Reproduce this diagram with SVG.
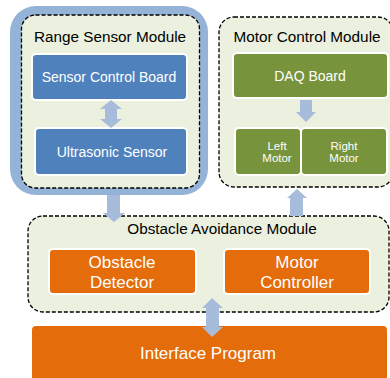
<svg xmlns="http://www.w3.org/2000/svg" width="390" height="378" viewBox="0 0 390 378">
<style>
.mod{fill:#ebf1de;stroke:#000;stroke-width:1.3;stroke-dasharray:4 2}
.blue{fill:#4f81bd;stroke:#fff;stroke-width:2}
.green{fill:#77933c;stroke:#fff;stroke-width:2}
.orange{fill:#e46c0a;stroke:#fff;stroke-width:2}
.arr{fill:#a7bcda}
text{font-family:"Liberation Sans",Arial,sans-serif;text-anchor:middle}
.title{font-size:15.3px;fill:#000}
.w14{font-size:14px;fill:#fff}
.w17{font-size:17px;fill:#fff}
.w11{font-size:11.5px;fill:#fff}
</style>
<rect width="390" height="378" fill="#fff"/>
<g id="range-sensor-module">
<rect x="10" y="6" width="198" height="189" rx="26" fill="#95b3d7"/>
<rect class="mod" x="21.5" y="15" width="178" height="173" rx="14"/>
<text class="title" x="110" y="42">Range Sensor Module</text>
</g>
<g id="sensor-control-board">
<rect class="blue" x="32" y="54" width="155" height="46" rx="4"/>
<text class="w14" x="109" y="82">Sensor Control Board</text>
</g>
<g id="ultrasonic-sensor">
<rect class="blue" x="35" y="128" width="152" height="47" rx="4"/>
<text class="w14" x="112" y="157">Ultrasonic Sensor</text>
</g>
<g id="motor-control-module">
<rect class="mod" x="219" y="17" width="174" height="170" rx="15"/>
<text class="title" x="307" y="42">Motor Control Module</text>
</g>
<g id="daq-board">
<rect class="green" x="233" y="53" width="155" height="45" rx="4"/>
<text class="w14" x="310" y="81">DAQ Board</text>
</g>
<g id="left-motor">
<rect class="green" x="235" y="128" width="66" height="47" rx="4"/>
<text class="w11" x="277" y="150">Left</text>
<text class="w11" x="277" y="162">Motor</text>
</g>
<g id="right-motor">
<rect class="green" x="301" y="128" width="86" height="47" rx="4"/>
<text class="w11" x="344" y="150">Right</text>
<text class="w11" x="344" y="162">Motor</text>
</g>
<g id="obstacle-avoidance-module">
<rect class="mod" x="28" y="216" width="361" height="96" rx="15"/>
<text class="title" x="222" y="234">Obstacle Avoidance Module</text>
</g>
<g id="obstacle-detector">
<rect class="orange" x="49" y="249" width="147" height="45" rx="4"/>
<text class="w17" x="122" y="268">Obstacle</text>
<text class="w17" x="122" y="288">Detector</text>
</g>
<g id="motor-controller">
<rect class="orange" x="224" y="249" width="146" height="45" rx="4"/>
<text class="w17" x="297" y="268">Motor</text>
<text class="w17" x="297" y="288">Controller</text>
</g>
<g id="interface-program">
<rect class="orange" x="31" y="325" width="357" height="62" rx="5"/>
<text class="w17" x="208" y="359">Interface Program</text>
</g>
<g id="connectors">
<polygon class="arr" points="111,100 122,109 117,109 117,119 122,119 111,128 100,119 105,119 105,109 100,109"/>
<polygon class="arr" points="300,100 312,100 312,112 316,112 306,122 296,112 300,112"/>
<polygon class="arr" points="107,195 120,195 120,213 125,213 114,222 103,213 107,213"/>
<polygon class="arr" points="290,216 303,216 303,198 307,198 297,189 287,198 290,198"/>
<polygon class="arr" points="212,298 223,308 219,308 219,327 223,327 212,337 202,327 206,327 206,308 202,308"/>
</g>
</svg>
